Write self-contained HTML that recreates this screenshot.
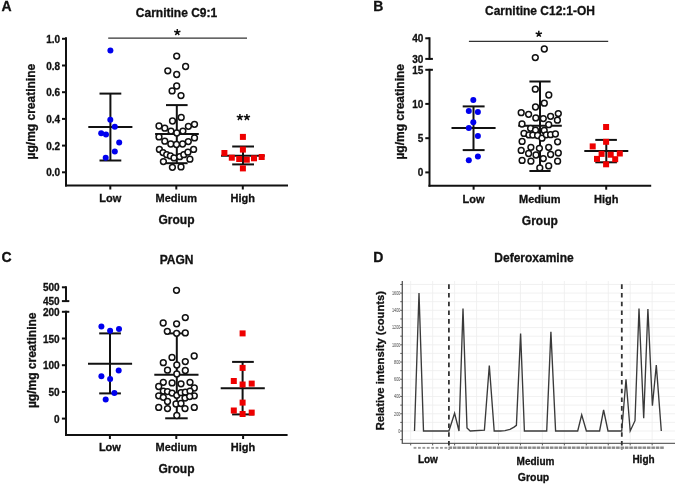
<!DOCTYPE html><html><head><meta charset="utf-8"><style>html,body{margin:0;padding:0;background:#fff;width:675px;height:484px;overflow:hidden}</style></head><body><svg width="675" height="484" viewBox="0 0 675 484" style="position:absolute;left:0;top:0;will-change:transform;font-family:'Liberation Sans', sans-serif">
<rect width="675" height="484" fill="#fff"/>
<text x="1.5" y="11" font-size="14" text-anchor="start" font-weight="bold" fill="#111" stroke="#111" stroke-width="0.3" >A</text>
<text x="176.5" y="17" font-size="12" text-anchor="middle" font-weight="bold" fill="#111" stroke="#111" stroke-width="0.3" >Carnitine C9:1</text>
<line x1="108.2" y1="38.2" x2="247" y2="38.2" stroke="#333" stroke-width="1.3" />
<path d="M177.30,32.30L177.30,29.00M177.30,32.30L180.44,31.28M177.30,32.30L179.24,34.97M177.30,32.30L175.36,34.97M177.30,32.30L174.16,31.28" stroke="#111" stroke-width="1.5" stroke-linecap="butt" fill="none"/>
<line x1="66" y1="37.3" x2="66" y2="186.5" stroke="#111" stroke-width="2" />
<line x1="65" y1="185.5" x2="288" y2="185.5" stroke="#111" stroke-width="2" />
<line x1="62" y1="172.3" x2="66" y2="172.3" stroke="#111" stroke-width="2" />
<text x="60.2" y="176.3" font-size="10" text-anchor="end" font-weight="bold" fill="#111" stroke="#111" stroke-width="0.3" >0.0</text>
<line x1="62" y1="145.60000000000002" x2="66" y2="145.60000000000002" stroke="#111" stroke-width="2" />
<text x="60.2" y="149.60000000000002" font-size="10" text-anchor="end" font-weight="bold" fill="#111" stroke="#111" stroke-width="0.3" >0.2</text>
<line x1="62" y1="118.9" x2="66" y2="118.9" stroke="#111" stroke-width="2" />
<text x="60.2" y="122.9" font-size="10" text-anchor="end" font-weight="bold" fill="#111" stroke="#111" stroke-width="0.3" >0.4</text>
<line x1="62" y1="92.20000000000002" x2="66" y2="92.20000000000002" stroke="#111" stroke-width="2" />
<text x="60.2" y="96.20000000000002" font-size="10" text-anchor="end" font-weight="bold" fill="#111" stroke="#111" stroke-width="0.3" >0.6</text>
<line x1="62" y1="65.5" x2="66" y2="65.5" stroke="#111" stroke-width="2" />
<text x="60.2" y="69.5" font-size="10" text-anchor="end" font-weight="bold" fill="#111" stroke="#111" stroke-width="0.3" >0.8</text>
<line x1="62" y1="38.80000000000001" x2="66" y2="38.80000000000001" stroke="#111" stroke-width="2" />
<text x="60.2" y="42.80000000000001" font-size="10" text-anchor="end" font-weight="bold" fill="#111" stroke="#111" stroke-width="0.3" >1.0</text>
<line x1="110.3" y1="185.5" x2="110.3" y2="189.5" stroke="#111" stroke-width="2" />
<line x1="176.3" y1="185.5" x2="176.3" y2="189.5" stroke="#111" stroke-width="2" />
<line x1="242.8" y1="185.5" x2="242.8" y2="189.5" stroke="#111" stroke-width="2" />
<text x="110.3" y="202" font-size="11" text-anchor="middle" font-weight="bold" fill="#111" stroke="#111" stroke-width="0.3" >Low</text>
<text x="176.3" y="202" font-size="11" text-anchor="middle" font-weight="bold" fill="#111" stroke="#111" stroke-width="0.3" >Medium</text>
<text x="242.8" y="202" font-size="11" text-anchor="middle" font-weight="bold" fill="#111" stroke="#111" stroke-width="0.3" >High</text>
<text x="176.5" y="223.8" font-size="12" text-anchor="middle" font-weight="bold" fill="#111" stroke="#111" stroke-width="0.3" >Group</text>
<text transform="translate(35.3,111.6) rotate(-90)" x="0" y="0" font-size="12" text-anchor="middle" font-weight="bold" fill="#111" stroke="#111" stroke-width="0.3">µg/mg creatinine</text>
<line x1="110.4" y1="93.6" x2="110.4" y2="160.5" stroke="#111" stroke-width="2" />
<line x1="99.5" y1="93.6" x2="121.3" y2="93.6" stroke="#111" stroke-width="2" />
<line x1="99.5" y1="160.5" x2="121.3" y2="160.5" stroke="#111" stroke-width="2" />
<line x1="88.3" y1="127" x2="132.4" y2="127" stroke="#111" stroke-width="2" />
<circle cx="110.4" cy="50.6" r="3.0" fill="#0000ee"/>
<circle cx="110.3" cy="119.7" r="3.0" fill="#0000ee"/>
<circle cx="114.8" cy="126.8" r="3.0" fill="#0000ee"/>
<circle cx="101.2" cy="133.3" r="3.0" fill="#0000ee"/>
<circle cx="106" cy="134.6" r="3.0" fill="#0000ee"/>
<circle cx="119.2" cy="142.5" r="3.0" fill="#0000ee"/>
<circle cx="114.8" cy="151.4" r="3.0" fill="#0000ee"/>
<circle cx="105.7" cy="157.7" r="3.0" fill="#0000ee"/>
<line x1="176.8" y1="105.1" x2="176.8" y2="163.2" stroke="#111" stroke-width="2" />
<line x1="166" y1="105.1" x2="187.6" y2="105.1" stroke="#111" stroke-width="2" />
<line x1="166" y1="163.2" x2="187.6" y2="163.2" stroke="#111" stroke-width="2" />
<line x1="155.1" y1="134" x2="198.8" y2="134" stroke="#111" stroke-width="2" />
<circle cx="176.7" cy="56.1" r="2.9" fill="#fff" stroke="#111" stroke-width="1.5"/>
<circle cx="185.6" cy="66.5" r="2.9" fill="#fff" stroke="#111" stroke-width="1.5"/>
<circle cx="167.8" cy="70.8" r="2.9" fill="#fff" stroke="#111" stroke-width="1.5"/>
<circle cx="176.7" cy="74.5" r="2.9" fill="#fff" stroke="#111" stroke-width="1.5"/>
<circle cx="176.7" cy="86" r="2.9" fill="#fff" stroke="#111" stroke-width="1.5"/>
<circle cx="172.1" cy="90.9" r="2.9" fill="#fff" stroke="#111" stroke-width="1.5"/>
<circle cx="181" cy="95.6" r="2.9" fill="#fff" stroke="#111" stroke-width="1.5"/>
<circle cx="181.2" cy="117.4" r="2.9" fill="#fff" stroke="#111" stroke-width="1.5"/>
<circle cx="172.5" cy="121" r="2.9" fill="#fff" stroke="#111" stroke-width="1.5"/>
<circle cx="159" cy="126" r="2.9" fill="#fff" stroke="#111" stroke-width="1.5"/>
<circle cx="164.8" cy="128.2" r="2.9" fill="#fff" stroke="#111" stroke-width="1.5"/>
<circle cx="171" cy="131.1" r="2.9" fill="#fff" stroke="#111" stroke-width="1.5"/>
<circle cx="176.8" cy="133" r="2.9" fill="#fff" stroke="#111" stroke-width="1.5"/>
<circle cx="182.9" cy="131.1" r="2.9" fill="#fff" stroke="#111" stroke-width="1.5"/>
<circle cx="188.4" cy="126.3" r="2.9" fill="#fff" stroke="#111" stroke-width="1.5"/>
<circle cx="194.5" cy="124.3" r="2.9" fill="#fff" stroke="#111" stroke-width="1.5"/>
<circle cx="159" cy="136.9" r="2.9" fill="#fff" stroke="#111" stroke-width="1.5"/>
<circle cx="164.8" cy="141.2" r="2.9" fill="#fff" stroke="#111" stroke-width="1.5"/>
<circle cx="170.8" cy="144" r="2.9" fill="#fff" stroke="#111" stroke-width="1.5"/>
<circle cx="176.5" cy="144.5" r="2.9" fill="#fff" stroke="#111" stroke-width="1.5"/>
<circle cx="182.6" cy="144" r="2.9" fill="#fff" stroke="#111" stroke-width="1.5"/>
<circle cx="188.3" cy="141.6" r="2.9" fill="#fff" stroke="#111" stroke-width="1.5"/>
<circle cx="194.5" cy="137.9" r="2.9" fill="#fff" stroke="#111" stroke-width="1.5"/>
<circle cx="159.4" cy="149.4" r="2.9" fill="#fff" stroke="#111" stroke-width="1.5"/>
<circle cx="163" cy="152.6" r="2.9" fill="#fff" stroke="#111" stroke-width="1.5"/>
<circle cx="166.7" cy="154.7" r="2.9" fill="#fff" stroke="#111" stroke-width="1.5"/>
<circle cx="170.4" cy="155.9" r="2.9" fill="#fff" stroke="#111" stroke-width="1.5"/>
<circle cx="174" cy="157.9" r="2.9" fill="#fff" stroke="#111" stroke-width="1.5"/>
<circle cx="179.7" cy="156.7" r="2.9" fill="#fff" stroke="#111" stroke-width="1.5"/>
<circle cx="183.8" cy="154.7" r="2.9" fill="#fff" stroke="#111" stroke-width="1.5"/>
<circle cx="187.9" cy="152.2" r="2.9" fill="#fff" stroke="#111" stroke-width="1.5"/>
<circle cx="193.6" cy="149.4" r="2.9" fill="#fff" stroke="#111" stroke-width="1.5"/>
<circle cx="163.4" cy="161.6" r="2.9" fill="#fff" stroke="#111" stroke-width="1.5"/>
<circle cx="189.9" cy="159.2" r="2.9" fill="#fff" stroke="#111" stroke-width="1.5"/>
<circle cx="172.4" cy="167.3" r="2.9" fill="#fff" stroke="#111" stroke-width="1.5"/>
<circle cx="181" cy="166.9" r="2.9" fill="#fff" stroke="#111" stroke-width="1.5"/>
<line x1="243" y1="146.5" x2="243" y2="164.4" stroke="#111" stroke-width="2" />
<line x1="232.2" y1="146.5" x2="254" y2="146.5" stroke="#111" stroke-width="2" />
<line x1="232.2" y1="164.4" x2="254" y2="164.4" stroke="#111" stroke-width="2" />
<line x1="221" y1="155.7" x2="264.7" y2="155.7" stroke="#111" stroke-width="2" />
<rect x="239.90" y="133.90" width="6.0" height="6.0" fill="#ee0000"/>
<rect x="239.90" y="146.60" width="6.0" height="6.0" fill="#ee0000"/>
<rect x="221.40" y="150.00" width="6.0" height="6.0" fill="#ee0000"/>
<rect x="228.80" y="154.70" width="6.0" height="6.0" fill="#ee0000"/>
<rect x="236.20" y="156.00" width="6.0" height="6.0" fill="#ee0000"/>
<rect x="243.80" y="156.70" width="6.0" height="6.0" fill="#ee0000"/>
<rect x="251.00" y="155.30" width="6.0" height="6.0" fill="#ee0000"/>
<rect x="258.70" y="154.00" width="6.0" height="6.0" fill="#ee0000"/>
<rect x="239.90" y="165.40" width="6.0" height="6.0" fill="#ee0000"/>
<path d="M239.90,117.30L239.90,114.00M239.90,117.30L243.04,116.28M239.90,117.30L241.84,119.97M239.90,117.30L237.96,119.97M239.90,117.30L236.76,116.28" stroke="#111" stroke-width="1.5" stroke-linecap="butt" fill="none"/>
<path d="M246.90,117.30L246.90,114.00M246.90,117.30L250.04,116.28M246.90,117.30L248.84,119.97M246.90,117.30L244.96,119.97M246.90,117.30L243.76,116.28" stroke="#111" stroke-width="1.5" stroke-linecap="butt" fill="none"/>
<text x="373.3" y="11" font-size="14" text-anchor="start" font-weight="bold" fill="#111" stroke="#111" stroke-width="0.3" >B</text>
<text x="540" y="14.8" font-size="12" text-anchor="middle" font-weight="bold" fill="#111" stroke="#111" stroke-width="0.3" >Carnitine C12:1-OH</text>
<line x1="468.9" y1="41.3" x2="608.2" y2="41.3" stroke="#333" stroke-width="1.3" />
<path d="M538.80,34.00L538.80,30.70M538.80,34.00L541.94,32.98M538.80,34.00L540.74,36.67M538.80,34.00L536.86,36.67M538.80,34.00L535.66,32.98" stroke="#111" stroke-width="1.5" stroke-linecap="butt" fill="none"/>
<line x1="429.5" y1="37.3" x2="429.5" y2="59.9" stroke="#111" stroke-width="2" />
<line x1="429.5" y1="68.8" x2="429.5" y2="186.7" stroke="#111" stroke-width="2" />
<line x1="428.5" y1="185.7" x2="651.2" y2="185.7" stroke="#111" stroke-width="2" />
<line x1="425.3" y1="38.3" x2="429.5" y2="38.3" stroke="#111" stroke-width="2" />
<text x="423.4" y="42.3" font-size="10" text-anchor="end" font-weight="bold" fill="#111" stroke="#111" stroke-width="0.3" >40</text>
<line x1="425.3" y1="58.9" x2="432.9" y2="58.9" stroke="#111" stroke-width="2" />
<text x="423.4" y="62.9" font-size="10" text-anchor="end" font-weight="bold" fill="#111" stroke="#111" stroke-width="0.3" >30</text>
<line x1="425.3" y1="69.8" x2="432.9" y2="69.8" stroke="#111" stroke-width="2" />
<text x="423.4" y="73.8" font-size="10" text-anchor="end" font-weight="bold" fill="#111" stroke="#111" stroke-width="0.3" >15</text>
<line x1="425.3" y1="103.9" x2="429.5" y2="103.9" stroke="#111" stroke-width="2" />
<text x="423.4" y="107.9" font-size="10" text-anchor="end" font-weight="bold" fill="#111" stroke="#111" stroke-width="0.3" >10</text>
<line x1="425.3" y1="138.2" x2="429.5" y2="138.2" stroke="#111" stroke-width="2" />
<text x="423.4" y="142.2" font-size="10" text-anchor="end" font-weight="bold" fill="#111" stroke="#111" stroke-width="0.3" >5</text>
<line x1="425.3" y1="172.4" x2="429.5" y2="172.4" stroke="#111" stroke-width="2" />
<text x="423.4" y="176.4" font-size="10" text-anchor="end" font-weight="bold" fill="#111" stroke="#111" stroke-width="0.3" >0</text>
<line x1="473.6" y1="185.7" x2="473.6" y2="189.7" stroke="#111" stroke-width="2" />
<line x1="539.8" y1="185.7" x2="539.8" y2="189.7" stroke="#111" stroke-width="2" />
<line x1="606.2" y1="185.7" x2="606.2" y2="189.7" stroke="#111" stroke-width="2" />
<text x="473.6" y="202.8" font-size="11" text-anchor="middle" font-weight="bold" fill="#111" stroke="#111" stroke-width="0.3" >Low</text>
<text x="539.8" y="202.8" font-size="11" text-anchor="middle" font-weight="bold" fill="#111" stroke="#111" stroke-width="0.3" >Medium</text>
<text x="606.2" y="202.8" font-size="11" text-anchor="middle" font-weight="bold" fill="#111" stroke="#111" stroke-width="0.3" >High</text>
<text x="539.8" y="224.7" font-size="12" text-anchor="middle" font-weight="bold" fill="#111" stroke="#111" stroke-width="0.3" >Group</text>
<text transform="translate(404.4,111.8) rotate(-90)" x="0" y="0" font-size="12" text-anchor="middle" font-weight="bold" fill="#111" stroke="#111" stroke-width="0.3">µg/mg creatinine</text>
<line x1="473.5" y1="106.4" x2="473.5" y2="150.1" stroke="#111" stroke-width="2" />
<line x1="462.7" y1="106.4" x2="484.6" y2="106.4" stroke="#111" stroke-width="2" />
<line x1="462.7" y1="150.1" x2="484.6" y2="150.1" stroke="#111" stroke-width="2" />
<line x1="451.5" y1="128.1" x2="495.6" y2="128.1" stroke="#111" stroke-width="2" />
<circle cx="473.3" cy="99.9" r="3.0" fill="#0000ee"/>
<circle cx="468.8" cy="111" r="3.0" fill="#0000ee"/>
<circle cx="477.9" cy="112" r="3.0" fill="#0000ee"/>
<circle cx="473.3" cy="122.2" r="3.0" fill="#0000ee"/>
<circle cx="468.8" cy="128.1" r="3.0" fill="#0000ee"/>
<circle cx="477.9" cy="136.1" r="3.0" fill="#0000ee"/>
<circle cx="477.9" cy="156.6" r="3.0" fill="#0000ee"/>
<circle cx="468.8" cy="160.3" r="3.0" fill="#0000ee"/>
<line x1="540" y1="81.5" x2="540" y2="171" stroke="#111" stroke-width="2" />
<line x1="529.4" y1="81.5" x2="550.6" y2="81.5" stroke="#111" stroke-width="2" />
<line x1="529.4" y1="171" x2="550.6" y2="171" stroke="#111" stroke-width="2" />
<line x1="518.2" y1="125.8" x2="561.8" y2="125.8" stroke="#111" stroke-width="2" />
<circle cx="544.3" cy="49" r="2.9" fill="#fff" stroke="#111" stroke-width="1.5"/>
<circle cx="535.3" cy="57.6" r="2.9" fill="#fff" stroke="#111" stroke-width="1.5"/>
<circle cx="535.3" cy="89.2" r="2.9" fill="#fff" stroke="#111" stroke-width="1.5"/>
<circle cx="548.8" cy="95" r="2.9" fill="#fff" stroke="#111" stroke-width="1.5"/>
<circle cx="544.3" cy="103.2" r="2.9" fill="#fff" stroke="#111" stroke-width="1.5"/>
<circle cx="535.5" cy="107" r="2.9" fill="#fff" stroke="#111" stroke-width="1.5"/>
<circle cx="521.2" cy="112.7" r="2.9" fill="#fff" stroke="#111" stroke-width="1.5"/>
<circle cx="528.6" cy="114.3" r="2.9" fill="#fff" stroke="#111" stroke-width="1.5"/>
<circle cx="535.8" cy="117.9" r="2.9" fill="#fff" stroke="#111" stroke-width="1.5"/>
<circle cx="543.3" cy="118.6" r="2.9" fill="#fff" stroke="#111" stroke-width="1.5"/>
<circle cx="550.6" cy="116.3" r="2.9" fill="#fff" stroke="#111" stroke-width="1.5"/>
<circle cx="558.3" cy="113.6" r="2.9" fill="#fff" stroke="#111" stroke-width="1.5"/>
<circle cx="557.4" cy="120.2" r="2.9" fill="#fff" stroke="#111" stroke-width="1.5"/>
<circle cx="522" cy="124" r="2.9" fill="#fff" stroke="#111" stroke-width="1.5"/>
<circle cx="548.7" cy="124.7" r="2.9" fill="#fff" stroke="#111" stroke-width="1.5"/>
<circle cx="530.6" cy="128.3" r="2.9" fill="#fff" stroke="#111" stroke-width="1.5"/>
<circle cx="535.5" cy="130.2" r="2.9" fill="#fff" stroke="#111" stroke-width="1.5"/>
<circle cx="544.2" cy="130.4" r="2.9" fill="#fff" stroke="#111" stroke-width="1.5"/>
<circle cx="524" cy="133.4" r="2.9" fill="#fff" stroke="#111" stroke-width="1.5"/>
<circle cx="529" cy="134.9" r="2.9" fill="#fff" stroke="#111" stroke-width="1.5"/>
<circle cx="532.8" cy="135.1" r="2.9" fill="#fff" stroke="#111" stroke-width="1.5"/>
<circle cx="537.6" cy="135.5" r="2.9" fill="#fff" stroke="#111" stroke-width="1.5"/>
<circle cx="542" cy="138.2" r="2.9" fill="#fff" stroke="#111" stroke-width="1.5"/>
<circle cx="546.3" cy="134.8" r="2.9" fill="#fff" stroke="#111" stroke-width="1.5"/>
<circle cx="550.6" cy="134.7" r="2.9" fill="#fff" stroke="#111" stroke-width="1.5"/>
<circle cx="555.4" cy="134" r="2.9" fill="#fff" stroke="#111" stroke-width="1.5"/>
<circle cx="522.1" cy="141.4" r="2.9" fill="#fff" stroke="#111" stroke-width="1.5"/>
<circle cx="557.6" cy="141.8" r="2.9" fill="#fff" stroke="#111" stroke-width="1.5"/>
<circle cx="530.9" cy="147.3" r="2.9" fill="#fff" stroke="#111" stroke-width="1.5"/>
<circle cx="539.4" cy="148.3" r="2.9" fill="#fff" stroke="#111" stroke-width="1.5"/>
<circle cx="548.7" cy="147.3" r="2.9" fill="#fff" stroke="#111" stroke-width="1.5"/>
<circle cx="521.2" cy="150.4" r="2.9" fill="#fff" stroke="#111" stroke-width="1.5"/>
<circle cx="528.6" cy="153.5" r="2.9" fill="#fff" stroke="#111" stroke-width="1.5"/>
<circle cx="536" cy="155" r="2.9" fill="#fff" stroke="#111" stroke-width="1.5"/>
<circle cx="550.6" cy="154.5" r="2.9" fill="#fff" stroke="#111" stroke-width="1.5"/>
<circle cx="558.3" cy="153" r="2.9" fill="#fff" stroke="#111" stroke-width="1.5"/>
<circle cx="522.1" cy="160.4" r="2.9" fill="#fff" stroke="#111" stroke-width="1.5"/>
<circle cx="530.9" cy="161.2" r="2.9" fill="#fff" stroke="#111" stroke-width="1.5"/>
<circle cx="543.3" cy="158.6" r="2.9" fill="#fff" stroke="#111" stroke-width="1.5"/>
<circle cx="557.6" cy="161.2" r="2.9" fill="#fff" stroke="#111" stroke-width="1.5"/>
<circle cx="539.8" cy="167.9" r="2.9" fill="#fff" stroke="#111" stroke-width="1.5"/>
<circle cx="548.7" cy="165.9" r="2.9" fill="#fff" stroke="#111" stroke-width="1.5"/>
<line x1="606.3" y1="139.9" x2="606.3" y2="162.3" stroke="#111" stroke-width="2" />
<line x1="595.3" y1="139.9" x2="616.9" y2="139.9" stroke="#111" stroke-width="2" />
<line x1="595.3" y1="162.3" x2="616.9" y2="162.3" stroke="#111" stroke-width="2" />
<line x1="584.3" y1="150.9" x2="628.3" y2="150.9" stroke="#111" stroke-width="2" />
<rect x="603.10" y="124.00" width="6.0" height="6.0" fill="#ee0000"/>
<rect x="603.10" y="138.80" width="6.0" height="6.0" fill="#ee0000"/>
<rect x="589.70" y="143.40" width="6.0" height="6.0" fill="#ee0000"/>
<rect x="598.60" y="150.90" width="6.0" height="6.0" fill="#ee0000"/>
<rect x="607.70" y="151.70" width="6.0" height="6.0" fill="#ee0000"/>
<rect x="616.80" y="150.50" width="6.0" height="6.0" fill="#ee0000"/>
<rect x="594.00" y="155.90" width="6.0" height="6.0" fill="#ee0000"/>
<rect x="612.20" y="156.20" width="6.0" height="6.0" fill="#ee0000"/>
<rect x="603.10" y="161.30" width="6.0" height="6.0" fill="#ee0000"/>
<text x="1.5" y="262.3" font-size="14" text-anchor="start" font-weight="bold" fill="#111" stroke="#111" stroke-width="0.3" >C</text>
<text x="176.6" y="264" font-size="12" text-anchor="middle" font-weight="bold" fill="#111" stroke="#111" stroke-width="0.3" >PAGN</text>
<line x1="66" y1="286.3" x2="66" y2="302.1" stroke="#111" stroke-width="2" />
<line x1="66" y1="310.8" x2="66" y2="436" stroke="#111" stroke-width="2" />
<line x1="65" y1="435" x2="287.6" y2="435" stroke="#111" stroke-width="2" />
<line x1="61.9" y1="287.3" x2="66" y2="287.3" stroke="#111" stroke-width="2" />
<text x="59.6" y="291.3" font-size="10" text-anchor="end" font-weight="bold" fill="#111" stroke="#111" stroke-width="0.3" >500</text>
<line x1="61.9" y1="301.1" x2="69.3" y2="301.1" stroke="#111" stroke-width="2" />
<text x="59.6" y="305.1" font-size="10" text-anchor="end" font-weight="bold" fill="#111" stroke="#111" stroke-width="0.3" >450</text>
<line x1="61.9" y1="311.8" x2="69.3" y2="311.8" stroke="#111" stroke-width="2" />
<text x="59.6" y="315.8" font-size="10" text-anchor="end" font-weight="bold" fill="#111" stroke="#111" stroke-width="0.3" >200</text>
<line x1="61.9" y1="338.5" x2="66" y2="338.5" stroke="#111" stroke-width="2" />
<text x="59.6" y="342.5" font-size="10" text-anchor="end" font-weight="bold" fill="#111" stroke="#111" stroke-width="0.3" >150</text>
<line x1="61.9" y1="365.2" x2="66" y2="365.2" stroke="#111" stroke-width="2" />
<text x="59.6" y="369.2" font-size="10" text-anchor="end" font-weight="bold" fill="#111" stroke="#111" stroke-width="0.3" >100</text>
<line x1="61.9" y1="391.9" x2="66" y2="391.9" stroke="#111" stroke-width="2" />
<text x="59.6" y="395.9" font-size="10" text-anchor="end" font-weight="bold" fill="#111" stroke="#111" stroke-width="0.3" >50</text>
<line x1="61.9" y1="418.6" x2="66" y2="418.6" stroke="#111" stroke-width="2" />
<text x="59.6" y="422.6" font-size="10" text-anchor="end" font-weight="bold" fill="#111" stroke="#111" stroke-width="0.3" >0</text>
<line x1="109.9" y1="435" x2="109.9" y2="439" stroke="#111" stroke-width="2" />
<line x1="176.3" y1="435" x2="176.3" y2="439" stroke="#111" stroke-width="2" />
<line x1="243.1" y1="435" x2="243.1" y2="439" stroke="#111" stroke-width="2" />
<text x="109.9" y="451.3" font-size="11" text-anchor="middle" font-weight="bold" fill="#111" stroke="#111" stroke-width="0.3" >Low</text>
<text x="176.3" y="451.3" font-size="11" text-anchor="middle" font-weight="bold" fill="#111" stroke="#111" stroke-width="0.3" >Medium</text>
<text x="243.1" y="451.3" font-size="11" text-anchor="middle" font-weight="bold" fill="#111" stroke="#111" stroke-width="0.3" >High</text>
<text x="176.5" y="472.5" font-size="12" text-anchor="middle" font-weight="bold" fill="#111" stroke="#111" stroke-width="0.3" >Group</text>
<text transform="translate(35.7,360.3) rotate(-90)" x="0" y="0" font-size="12" text-anchor="middle" font-weight="bold" fill="#111" stroke="#111" stroke-width="0.3">µg/mg creatinine</text>
<line x1="110" y1="333.4" x2="110" y2="393.4" stroke="#111" stroke-width="2" />
<line x1="99.2" y1="333.4" x2="120.9" y2="333.4" stroke="#111" stroke-width="2" />
<line x1="99.2" y1="393.4" x2="120.9" y2="393.4" stroke="#111" stroke-width="2" />
<line x1="88" y1="363.7" x2="132.1" y2="363.7" stroke="#111" stroke-width="2" />
<circle cx="101.4" cy="326.5" r="3.0" fill="#0000ee"/>
<circle cx="110.1" cy="330.8" r="3.0" fill="#0000ee"/>
<circle cx="119" cy="328.9" r="3.0" fill="#0000ee"/>
<circle cx="118.7" cy="370.6" r="3.0" fill="#0000ee"/>
<circle cx="101.4" cy="376.2" r="3.0" fill="#0000ee"/>
<circle cx="110.1" cy="379.1" r="3.0" fill="#0000ee"/>
<circle cx="114.4" cy="392.9" r="3.0" fill="#0000ee"/>
<circle cx="105.7" cy="399.6" r="3.0" fill="#0000ee"/>
<line x1="176.8" y1="333.4" x2="176.8" y2="418.3" stroke="#111" stroke-width="2" />
<line x1="165.2" y1="333.4" x2="187.7" y2="333.4" stroke="#111" stroke-width="2" />
<line x1="165.2" y1="418.3" x2="187.7" y2="418.3" stroke="#111" stroke-width="2" />
<line x1="154.3" y1="374.8" x2="198.5" y2="374.8" stroke="#111" stroke-width="2" />
<circle cx="176.5" cy="290.3" r="2.9" fill="#fff" stroke="#111" stroke-width="1.5"/>
<circle cx="185.3" cy="317.6" r="2.9" fill="#fff" stroke="#111" stroke-width="1.5"/>
<circle cx="163.2" cy="323" r="2.9" fill="#fff" stroke="#111" stroke-width="1.5"/>
<circle cx="176.6" cy="323.8" r="2.9" fill="#fff" stroke="#111" stroke-width="1.5"/>
<circle cx="167.3" cy="331.3" r="2.9" fill="#fff" stroke="#111" stroke-width="1.5"/>
<circle cx="176.6" cy="333.3" r="2.9" fill="#fff" stroke="#111" stroke-width="1.5"/>
<circle cx="185.3" cy="332.9" r="2.9" fill="#fff" stroke="#111" stroke-width="1.5"/>
<circle cx="172" cy="357.4" r="2.9" fill="#fff" stroke="#111" stroke-width="1.5"/>
<circle cx="194.2" cy="356" r="2.9" fill="#fff" stroke="#111" stroke-width="1.5"/>
<circle cx="163.3" cy="362.7" r="2.9" fill="#fff" stroke="#111" stroke-width="1.5"/>
<circle cx="185.3" cy="361.6" r="2.9" fill="#fff" stroke="#111" stroke-width="1.5"/>
<circle cx="176.8" cy="365" r="2.9" fill="#fff" stroke="#111" stroke-width="1.5"/>
<circle cx="167.5" cy="370.2" r="2.9" fill="#fff" stroke="#111" stroke-width="1.5"/>
<circle cx="185.3" cy="370.5" r="2.9" fill="#fff" stroke="#111" stroke-width="1.5"/>
<circle cx="176.8" cy="374" r="2.9" fill="#fff" stroke="#111" stroke-width="1.5"/>
<circle cx="163.3" cy="382.3" r="2.9" fill="#fff" stroke="#111" stroke-width="1.5"/>
<circle cx="172.1" cy="382.9" r="2.9" fill="#fff" stroke="#111" stroke-width="1.5"/>
<circle cx="181" cy="383.8" r="2.9" fill="#fff" stroke="#111" stroke-width="1.5"/>
<circle cx="190" cy="382.3" r="2.9" fill="#fff" stroke="#111" stroke-width="1.5"/>
<circle cx="158.7" cy="386.5" r="2.9" fill="#fff" stroke="#111" stroke-width="1.5"/>
<circle cx="194.3" cy="388" r="2.9" fill="#fff" stroke="#111" stroke-width="1.5"/>
<circle cx="163.3" cy="391.1" r="2.9" fill="#fff" stroke="#111" stroke-width="1.5"/>
<circle cx="167.5" cy="391.6" r="2.9" fill="#fff" stroke="#111" stroke-width="1.5"/>
<circle cx="172.1" cy="393.1" r="2.9" fill="#fff" stroke="#111" stroke-width="1.5"/>
<circle cx="176.8" cy="395.3" r="2.9" fill="#fff" stroke="#111" stroke-width="1.5"/>
<circle cx="181" cy="392.7" r="2.9" fill="#fff" stroke="#111" stroke-width="1.5"/>
<circle cx="185.3" cy="392.2" r="2.9" fill="#fff" stroke="#111" stroke-width="1.5"/>
<circle cx="190" cy="391.1" r="2.9" fill="#fff" stroke="#111" stroke-width="1.5"/>
<circle cx="194.3" cy="395.8" r="2.9" fill="#fff" stroke="#111" stroke-width="1.5"/>
<circle cx="158.7" cy="395.8" r="2.9" fill="#fff" stroke="#111" stroke-width="1.5"/>
<circle cx="163.3" cy="397.3" r="2.9" fill="#fff" stroke="#111" stroke-width="1.5"/>
<circle cx="167.5" cy="401.5" r="2.9" fill="#fff" stroke="#111" stroke-width="1.5"/>
<circle cx="176" cy="404" r="2.9" fill="#fff" stroke="#111" stroke-width="1.5"/>
<circle cx="181" cy="403.5" r="2.9" fill="#fff" stroke="#111" stroke-width="1.5"/>
<circle cx="185" cy="398.1" r="2.9" fill="#fff" stroke="#111" stroke-width="1.5"/>
<circle cx="189.7" cy="396.5" r="2.9" fill="#fff" stroke="#111" stroke-width="1.5"/>
<circle cx="158.7" cy="407.4" r="2.9" fill="#fff" stroke="#111" stroke-width="1.5"/>
<circle cx="167.5" cy="408.6" r="2.9" fill="#fff" stroke="#111" stroke-width="1.5"/>
<circle cx="185" cy="408.6" r="2.9" fill="#fff" stroke="#111" stroke-width="1.5"/>
<circle cx="194.3" cy="407.4" r="2.9" fill="#fff" stroke="#111" stroke-width="1.5"/>
<circle cx="176.8" cy="415.5" r="2.9" fill="#fff" stroke="#111" stroke-width="1.5"/>
<line x1="242.6" y1="361.9" x2="242.6" y2="414.4" stroke="#111" stroke-width="2" />
<line x1="232.1" y1="361.9" x2="253.8" y2="361.9" stroke="#111" stroke-width="2" />
<line x1="232.1" y1="414.4" x2="253.8" y2="414.4" stroke="#111" stroke-width="2" />
<line x1="220.7" y1="388.2" x2="264.8" y2="388.2" stroke="#111" stroke-width="2" />
<rect x="239.60" y="330.40" width="6.0" height="6.0" fill="#ee0000"/>
<rect x="239.60" y="364.90" width="6.0" height="6.0" fill="#ee0000"/>
<rect x="230.80" y="378.00" width="6.0" height="6.0" fill="#ee0000"/>
<rect x="239.60" y="381.50" width="6.0" height="6.0" fill="#ee0000"/>
<rect x="248.70" y="380.60" width="6.0" height="6.0" fill="#ee0000"/>
<rect x="239.60" y="399.60" width="6.0" height="6.0" fill="#ee0000"/>
<rect x="230.80" y="407.50" width="6.0" height="6.0" fill="#ee0000"/>
<rect x="239.60" y="411.00" width="6.0" height="6.0" fill="#ee0000"/>
<rect x="248.70" y="409.60" width="6.0" height="6.0" fill="#ee0000"/>
<text x="373.3" y="262" font-size="14" text-anchor="start" font-weight="bold" fill="#111" stroke="#111" stroke-width="0.3" >D</text>
<text x="534" y="262.2" font-size="12" text-anchor="middle" font-weight="bold" fill="#111" stroke="#111" stroke-width="0.3" >Deferoxamine</text>
<line x1="402.3" y1="439.62" x2="675" y2="439.62" stroke="#eeeeee" stroke-width="0.8" />
<line x1="402.3" y1="431.0" x2="675" y2="431.0" stroke="#eeeeee" stroke-width="0.8" />
<line x1="402.3" y1="422.38" x2="675" y2="422.38" stroke="#eeeeee" stroke-width="0.8" />
<line x1="402.3" y1="413.76" x2="675" y2="413.76" stroke="#eeeeee" stroke-width="0.8" />
<line x1="402.3" y1="405.14" x2="675" y2="405.14" stroke="#eeeeee" stroke-width="0.8" />
<line x1="402.3" y1="396.52" x2="675" y2="396.52" stroke="#eeeeee" stroke-width="0.8" />
<line x1="402.3" y1="387.9" x2="675" y2="387.9" stroke="#eeeeee" stroke-width="0.8" />
<line x1="402.3" y1="379.28" x2="675" y2="379.28" stroke="#eeeeee" stroke-width="0.8" />
<line x1="402.3" y1="370.66" x2="675" y2="370.66" stroke="#eeeeee" stroke-width="0.8" />
<line x1="402.3" y1="362.04" x2="675" y2="362.04" stroke="#eeeeee" stroke-width="0.8" />
<line x1="402.3" y1="353.42" x2="675" y2="353.42" stroke="#eeeeee" stroke-width="0.8" />
<line x1="402.3" y1="344.8" x2="675" y2="344.8" stroke="#eeeeee" stroke-width="0.8" />
<line x1="402.3" y1="336.18" x2="675" y2="336.18" stroke="#eeeeee" stroke-width="0.8" />
<line x1="402.3" y1="327.56" x2="675" y2="327.56" stroke="#eeeeee" stroke-width="0.8" />
<line x1="402.3" y1="318.94" x2="675" y2="318.94" stroke="#eeeeee" stroke-width="0.8" />
<line x1="402.3" y1="310.32" x2="675" y2="310.32" stroke="#eeeeee" stroke-width="0.8" />
<line x1="402.3" y1="301.7" x2="675" y2="301.7" stroke="#eeeeee" stroke-width="0.8" />
<line x1="402.3" y1="293.08000000000004" x2="675" y2="293.08000000000004" stroke="#eeeeee" stroke-width="0.8" />
<line x1="402.3" y1="284.46000000000004" x2="675" y2="284.46000000000004" stroke="#eeeeee" stroke-width="0.8" />
<line x1="410.7" y1="281" x2="410.7" y2="443.4" stroke="#eeeeee" stroke-width="0.8" />
<line x1="432.65" y1="281" x2="432.65" y2="443.4" stroke="#eeeeee" stroke-width="0.8" />
<line x1="454.59999999999997" y1="281" x2="454.59999999999997" y2="443.4" stroke="#eeeeee" stroke-width="0.8" />
<line x1="476.54999999999995" y1="281" x2="476.54999999999995" y2="443.4" stroke="#eeeeee" stroke-width="0.8" />
<line x1="498.5" y1="281" x2="498.5" y2="443.4" stroke="#eeeeee" stroke-width="0.8" />
<line x1="520.45" y1="281" x2="520.45" y2="443.4" stroke="#eeeeee" stroke-width="0.8" />
<line x1="542.4" y1="281" x2="542.4" y2="443.4" stroke="#eeeeee" stroke-width="0.8" />
<line x1="564.35" y1="281" x2="564.35" y2="443.4" stroke="#eeeeee" stroke-width="0.8" />
<line x1="586.3" y1="281" x2="586.3" y2="443.4" stroke="#eeeeee" stroke-width="0.8" />
<line x1="608.25" y1="281" x2="608.25" y2="443.4" stroke="#eeeeee" stroke-width="0.8" />
<line x1="630.2" y1="281" x2="630.2" y2="443.4" stroke="#eeeeee" stroke-width="0.8" />
<line x1="652.15" y1="281" x2="652.15" y2="443.4" stroke="#eeeeee" stroke-width="0.8" />
<line x1="402.3" y1="281" x2="402.3" y2="444" stroke="#555" stroke-width="1.3" />
<line x1="402.3" y1="443.4" x2="675" y2="443.4" stroke="#666" stroke-width="1.3" />
<line x1="400.3" y1="439.62" x2="402.3" y2="439.62" stroke="#555" stroke-width="1" />
<line x1="400.3" y1="431.0" x2="402.3" y2="431.0" stroke="#555" stroke-width="1" />
<line x1="400.3" y1="422.38" x2="402.3" y2="422.38" stroke="#555" stroke-width="1" />
<line x1="400.3" y1="413.76" x2="402.3" y2="413.76" stroke="#555" stroke-width="1" />
<line x1="400.3" y1="405.14" x2="402.3" y2="405.14" stroke="#555" stroke-width="1" />
<line x1="400.3" y1="396.52" x2="402.3" y2="396.52" stroke="#555" stroke-width="1" />
<line x1="400.3" y1="387.9" x2="402.3" y2="387.9" stroke="#555" stroke-width="1" />
<line x1="400.3" y1="379.28" x2="402.3" y2="379.28" stroke="#555" stroke-width="1" />
<line x1="400.3" y1="370.66" x2="402.3" y2="370.66" stroke="#555" stroke-width="1" />
<line x1="400.3" y1="362.04" x2="402.3" y2="362.04" stroke="#555" stroke-width="1" />
<line x1="400.3" y1="353.42" x2="402.3" y2="353.42" stroke="#555" stroke-width="1" />
<line x1="400.3" y1="344.8" x2="402.3" y2="344.8" stroke="#555" stroke-width="1" />
<line x1="400.3" y1="336.18" x2="402.3" y2="336.18" stroke="#555" stroke-width="1" />
<line x1="400.3" y1="327.56" x2="402.3" y2="327.56" stroke="#555" stroke-width="1" />
<line x1="400.3" y1="318.94" x2="402.3" y2="318.94" stroke="#555" stroke-width="1" />
<line x1="400.3" y1="310.32" x2="402.3" y2="310.32" stroke="#555" stroke-width="1" />
<line x1="400.3" y1="301.7" x2="402.3" y2="301.7" stroke="#555" stroke-width="1" />
<line x1="400.3" y1="293.08000000000004" x2="402.3" y2="293.08000000000004" stroke="#555" stroke-width="1" />
<line x1="400.3" y1="284.46000000000004" x2="402.3" y2="284.46000000000004" stroke="#555" stroke-width="1" />
<text x="400.3" y="432.8" font-size="4.9" text-anchor="end" font-weight="normal" fill="#444"  textLength="2.08" lengthAdjust="spacingAndGlyphs">0</text>
<text x="400.3" y="415.56" font-size="4.9" text-anchor="end" font-weight="normal" fill="#444"  textLength="6.24" lengthAdjust="spacingAndGlyphs">200</text>
<text x="400.3" y="398.32" font-size="4.9" text-anchor="end" font-weight="normal" fill="#444"  textLength="6.24" lengthAdjust="spacingAndGlyphs">400</text>
<text x="400.3" y="381.08" font-size="4.9" text-anchor="end" font-weight="normal" fill="#444"  textLength="6.24" lengthAdjust="spacingAndGlyphs">600</text>
<text x="400.3" y="363.84000000000003" font-size="4.9" text-anchor="end" font-weight="normal" fill="#444"  textLength="6.24" lengthAdjust="spacingAndGlyphs">800</text>
<text x="400.3" y="346.6" font-size="4.9" text-anchor="end" font-weight="normal" fill="#444"  textLength="8.32" lengthAdjust="spacingAndGlyphs">1000</text>
<text x="400.3" y="329.36" font-size="4.9" text-anchor="end" font-weight="normal" fill="#444"  textLength="8.32" lengthAdjust="spacingAndGlyphs">1200</text>
<text x="400.3" y="312.12" font-size="4.9" text-anchor="end" font-weight="normal" fill="#444"  textLength="8.32" lengthAdjust="spacingAndGlyphs">1400</text>
<text x="400.3" y="294.88000000000005" font-size="4.9" text-anchor="end" font-weight="normal" fill="#444"  textLength="8.32" lengthAdjust="spacingAndGlyphs">1600</text>
<line x1="410.7" y1="443.4" x2="410.7" y2="445.4" stroke="#555" stroke-width="1" />
<line x1="432.65" y1="443.4" x2="432.65" y2="445.4" stroke="#555" stroke-width="1" />
<line x1="454.59999999999997" y1="443.4" x2="454.59999999999997" y2="445.4" stroke="#555" stroke-width="1" />
<line x1="476.54999999999995" y1="443.4" x2="476.54999999999995" y2="445.4" stroke="#555" stroke-width="1" />
<line x1="498.5" y1="443.4" x2="498.5" y2="445.4" stroke="#555" stroke-width="1" />
<line x1="520.45" y1="443.4" x2="520.45" y2="445.4" stroke="#555" stroke-width="1" />
<line x1="542.4" y1="443.4" x2="542.4" y2="445.4" stroke="#555" stroke-width="1" />
<line x1="564.35" y1="443.4" x2="564.35" y2="445.4" stroke="#555" stroke-width="1" />
<line x1="586.3" y1="443.4" x2="586.3" y2="445.4" stroke="#555" stroke-width="1" />
<line x1="608.25" y1="443.4" x2="608.25" y2="445.4" stroke="#555" stroke-width="1" />
<line x1="630.2" y1="443.4" x2="630.2" y2="445.4" stroke="#555" stroke-width="1" />
<line x1="652.15" y1="443.4" x2="652.15" y2="445.4" stroke="#555" stroke-width="1" />
<rect x="413.60" y="446.9" width="2.8" height="1.9" fill="#9a9a9a"/>
<rect x="418.01" y="446.9" width="2.8" height="1.9" fill="#9a9a9a"/>
<rect x="422.42" y="446.9" width="2.8" height="1.9" fill="#9a9a9a"/>
<rect x="426.83" y="446.9" width="2.8" height="1.9" fill="#9a9a9a"/>
<rect x="431.24" y="446.9" width="2.8" height="1.9" fill="#9a9a9a"/>
<rect x="435.65" y="446.9" width="2.8" height="1.9" fill="#9a9a9a"/>
<rect x="440.06" y="446.9" width="2.8" height="1.9" fill="#9a9a9a"/>
<rect x="444.47" y="446.9" width="2.8" height="1.9" fill="#9a9a9a"/>
<rect x="448.48" y="446.5" width="3.6" height="2.4" fill="#8a8a8a"/>
<rect x="452.89" y="446.5" width="3.6" height="2.4" fill="#8a8a8a"/>
<rect x="457.30" y="446.5" width="3.6" height="2.4" fill="#8a8a8a"/>
<rect x="461.71" y="446.5" width="3.6" height="2.4" fill="#8a8a8a"/>
<rect x="466.12" y="446.5" width="3.6" height="2.4" fill="#8a8a8a"/>
<rect x="470.53" y="446.5" width="3.6" height="2.4" fill="#8a8a8a"/>
<rect x="474.94" y="446.5" width="3.6" height="2.4" fill="#8a8a8a"/>
<rect x="479.35" y="446.5" width="3.6" height="2.4" fill="#8a8a8a"/>
<rect x="483.76" y="446.5" width="3.6" height="2.4" fill="#8a8a8a"/>
<rect x="488.17" y="446.5" width="3.6" height="2.4" fill="#8a8a8a"/>
<rect x="492.58" y="446.5" width="3.6" height="2.4" fill="#8a8a8a"/>
<rect x="496.99" y="446.5" width="3.6" height="2.4" fill="#8a8a8a"/>
<rect x="501.40" y="446.5" width="3.6" height="2.4" fill="#8a8a8a"/>
<rect x="505.81" y="446.5" width="3.6" height="2.4" fill="#8a8a8a"/>
<rect x="510.22" y="446.5" width="3.6" height="2.4" fill="#8a8a8a"/>
<rect x="514.63" y="446.5" width="3.6" height="2.4" fill="#8a8a8a"/>
<rect x="519.04" y="446.5" width="3.6" height="2.4" fill="#8a8a8a"/>
<rect x="523.45" y="446.5" width="3.6" height="2.4" fill="#8a8a8a"/>
<rect x="527.86" y="446.5" width="3.6" height="2.4" fill="#8a8a8a"/>
<rect x="532.27" y="446.5" width="3.6" height="2.4" fill="#8a8a8a"/>
<rect x="536.68" y="446.5" width="3.6" height="2.4" fill="#8a8a8a"/>
<rect x="541.09" y="446.5" width="3.6" height="2.4" fill="#8a8a8a"/>
<rect x="545.50" y="446.5" width="3.6" height="2.4" fill="#8a8a8a"/>
<rect x="549.91" y="446.5" width="3.6" height="2.4" fill="#8a8a8a"/>
<rect x="554.32" y="446.5" width="3.6" height="2.4" fill="#8a8a8a"/>
<rect x="558.73" y="446.5" width="3.6" height="2.4" fill="#8a8a8a"/>
<rect x="563.14" y="446.5" width="3.6" height="2.4" fill="#8a8a8a"/>
<rect x="567.55" y="446.5" width="3.6" height="2.4" fill="#8a8a8a"/>
<rect x="571.96" y="446.5" width="3.6" height="2.4" fill="#8a8a8a"/>
<rect x="576.37" y="446.5" width="3.6" height="2.4" fill="#8a8a8a"/>
<rect x="580.78" y="446.5" width="3.6" height="2.4" fill="#8a8a8a"/>
<rect x="585.19" y="446.5" width="3.6" height="2.4" fill="#8a8a8a"/>
<rect x="589.60" y="446.5" width="3.6" height="2.4" fill="#8a8a8a"/>
<rect x="594.01" y="446.5" width="3.6" height="2.4" fill="#8a8a8a"/>
<rect x="598.42" y="446.5" width="3.6" height="2.4" fill="#8a8a8a"/>
<rect x="602.83" y="446.5" width="3.6" height="2.4" fill="#8a8a8a"/>
<rect x="607.24" y="446.5" width="3.6" height="2.4" fill="#8a8a8a"/>
<rect x="611.65" y="446.5" width="3.6" height="2.4" fill="#8a8a8a"/>
<rect x="616.06" y="446.5" width="3.6" height="2.4" fill="#8a8a8a"/>
<rect x="620.47" y="446.5" width="3.6" height="2.4" fill="#8a8a8a"/>
<rect x="624.88" y="446.5" width="3.6" height="2.4" fill="#8a8a8a"/>
<rect x="629.29" y="446.5" width="3.6" height="2.4" fill="#8a8a8a"/>
<rect x="633.70" y="446.5" width="3.6" height="2.4" fill="#8a8a8a"/>
<rect x="638.11" y="446.5" width="3.6" height="2.4" fill="#8a8a8a"/>
<rect x="642.52" y="446.5" width="3.6" height="2.4" fill="#8a8a8a"/>
<rect x="646.93" y="446.5" width="3.6" height="2.4" fill="#8a8a8a"/>
<rect x="651.34" y="446.5" width="3.6" height="2.4" fill="#8a8a8a"/>
<rect x="655.75" y="446.5" width="3.6" height="2.4" fill="#8a8a8a"/>
<rect x="660.16" y="446.5" width="3.6" height="2.4" fill="#8a8a8a"/>
<line x1="448.9" y1="284.3" x2="448.9" y2="450" stroke="#333" stroke-width="1.8" stroke-dasharray="4.6 4.1"/>
<line x1="621.8" y1="284.3" x2="621.8" y2="450" stroke="#333" stroke-width="1.8" stroke-dasharray="4.6 4.1"/>
<path d="M414.5,431.0 L419.0,293.1 L423.5,431.0 L448.9,431.0 L454.6,413.3 L459.0,431.0 L463.0,308.6 L467.0,428.0 L470.2,431.0 L484.4,430.1 L489.3,365.5 L494.2,431.0 L500.4,431.0 L505.0,430.6 L510.0,429.3 L514.0,427.1 L516.4,425.3 L520.6,333.6 L524.4,431.0 L546.7,431.0 L550.9,331.9 L555.6,431.0 L577.7,431.0 L581.7,414.8 L586.4,431.0 L599.6,431.0 L603.6,410.0 L608.0,431.0 L621.7,431.0 L626.0,379.3 L630.2,431.0 L635.0,420.7 L639.0,308.6 L643.7,418.2 L647.9,309.0 L652.4,405.7 L656.3,365.1 L661.3,431.0" stroke="#3a3a3a" stroke-width="1.35" fill="none" stroke-linejoin="miter"/>
<text x="427.9" y="462.9" font-size="10" text-anchor="middle" font-weight="bold" fill="#111" stroke="#111" stroke-width="0.3" >Low</text>
<text x="535.5" y="465.2" font-size="10" text-anchor="middle" font-weight="bold" fill="#111" stroke="#111" stroke-width="0.3" >Medium</text>
<text x="643.5" y="463.1" font-size="10" text-anchor="middle" font-weight="bold" fill="#111" stroke="#111" stroke-width="0.3" >High</text>
<text x="533.5" y="480.7" font-size="10.5" text-anchor="middle" font-weight="bold" fill="#111" stroke="#111" stroke-width="0.3" >Group</text>
<text transform="translate(383.5,360.7) rotate(-90)" x="0" y="0" font-size="11.2" text-anchor="middle" font-weight="bold" fill="#111" stroke="#111" stroke-width="0.3">Relative intensity (counts)</text>
</svg></body></html>
